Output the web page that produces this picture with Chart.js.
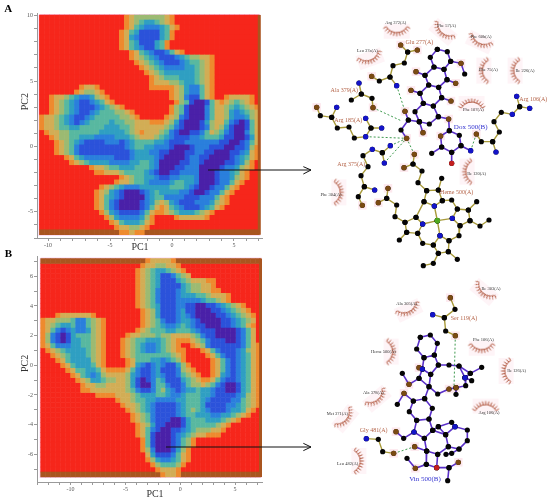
<!DOCTYPE html>
<html lang="en">
<head>
<meta charset="UTF-8" />
<title>Free energy landscapes and ligand contacts</title>
<script src="https://cdn.jsdelivr.net/npm/chart.js"></script>
<style>
  body { margin: 0; background: #fff; }
  canvas { position: absolute; }
</style>
</head>
<body>
<canvas id="plotA" width="275" height="262" style="left:0;top:0"></canvas>
<canvas id="plotB" width="275" height="252" style="left:0;top:250px"></canvas>
<canvas id="ligA" width="550" height="280" style="left:0;top:0"></canvas>
<canvas id="ligB" width="550" height="257" style="left:0;top:245px"></canvas>
<script>
// contour levels, one character per cell (0 = red, 9 = purple)
const levelColors = ["#f6261b", "#a9551f", "#ee8a2e", "#d2ad55", "#9cba72", "#58b8a0", "#2f9fc2", "#2a7fdc", "#2b52da", "#4a20a8"];

const gridA = [
  "000000000000000002344444432",
  "000000000000000002345665432",
  "0000000000000000023567776532",
  "000000000000000023568888652",
  "000000000000000023678888652",
  "00000000000000002356888652",
  "00000000000000002356788652",
  "00000000000000000023567887532",
  "00000000000000000023456788876544332",
  "00000000000000000002345678887655432",
  "00000000000000000000234567777665432",
  "00000000000000000000023456666665432",
  "00000000000000000000002345556665432",
  "00000000000000000000002333445665432",
  "00000000233200000000002222234677532",
  "00000002344320000000000000234677532",
  "0023345677643200000000000023478853200233332",
  "0023456788765320000000000002458998532345432",
  "00234567888765432000000000245899975334565432",
  "00234567887655544320000000245899975334676543",
  "23345678876555554432000002347899975334677643",
  "23345678765555655443332223468999864335789853",
  "23345566555556665543333334578999874346899853",
  "02334455555566666543233345789988753457899753",
  "00234455666777766654333456788877655568899863",
  "00023456788887778765555667888777777788998753",
  "00023457888888888765566777899987778889988742",
  "00023457888888888876667788999887788999887632",
  "00000235677777788876666789999877889999876532",
  "00000023456666777766556799998877899998876420",
  "00000000002334556665556799988777999987764320",
  "00000000000223334555567899887777999877653200",
  "00000000000000002345566788776667999877643200",
  "00000000000000023345567777655667999877532000",
  "00000000000023456777666666555678998775320000",
  "00000000000234678999876566667789987753200000",
  "00000000000235678999976557777888777532000000",
  "00000000000235789999876434678887776432",
  "0000000000023578999987532356788876532",
  "00000000000024678888753223456665432",
  "0000000000000246777764200002333332",
  "00000000000000235666532",
  "0000000000000002334432",
  "11111111111111112232211111111111111111111111"
];

const gridB = [
  "11111111111111111111123333211111111111111111",
  "0000000000000000000023344332",
  "00000000000000000002345665432",
  "000000000000000000023456887543",
  "00000000000000000002345688865433322",
  "00000000000000000002345688886544332",
  "000000000000000000023457888765443322",
  "00000000000000000002345788876665543332",
  "00000000000000000002345788877777655432",
  "00000000000000000002345688877889988765432",
  "000000000000000000002346888768899988765432",
  "0002333333200000000023468887678999988765432",
  "2334445775432000000023457887667899998876543",
  "2345665775432000000023456776567889998876532",
  "2357876776432000000234555665556788899998753",
  "2478986555432000023344454433334578899998753",
  "2478986655432000234556665432223457888998753",
  "23577766554320002345677654320023478888887532",
  "02345666654320002345677654322000235788876432",
  "00234566654320002345555555432000023578876532",
  "00023566664320000235556676542000002357876532",
  "00002356665320000236787678864200002357876532",
  "00000235566532222357887688874320002357876532",
  "00000023567643333467887678875432002367876532",
  "00000002346654433468987568886543223578876532",
  "00000000233443333468997557887544345789986532",
  "00000000223333333457887546787665667889986532",
  "00000000000222233345666556776555667888876432",
  "00000000000000023345566777766555678888775432",
  "00000000000000002334567888876555688887765432",
  "0000000000000000023456788887654567888766532",
  "000000000000000000234578888765566677665432",
  "0000000000000000002345788899865556665432",
  "00000000000000000002346889998655555432",
  "0000000000000000000235789988765444332",
  "000000000000000000023589998765433222",
  "0000000000000000000025899987542",
  "0000000000000000000025899987542",
  "000000000000000000002479998642",
  "000000000000000000000368887532",
  "000000000000000000000246776532",
  "00000000000000000000002455542",
  "0000000000000000000000023332",
  "11111111111111111111111123321111111111111111"
];

// PC ranges of the two grids
const pc1RangeA = [-10.70, 7.04];
const pc2RangeA = [10.05, -6.75];
const pc1RangeB = [-12.73, 7.32];
const pc2RangeB = [7.20, -7.53];

// axis extents and labelled ticks
const axisXA = [-10.89, 7.26];
const axisYA = [-7.0, 10.2];
const axisXB = [-13.06, 7.45];
const axisYB = [-7.87, 7.37];
const tickLabelsXA = [-10, -5, 0, 5];
const tickLabelsYA = [-5, 0, 5, 10];
const tickLabelsXB = [-10, -5, 0, 5];
const tickLabelsYB = [-6, -4, -2, 0, 2, 4, 6];

// ligand diagram A, in diagram units: chains of bonded atoms
const ligandBondsA = [
  [[487,148],[517,155],[527,184],[507,208],[477,201],[466,172],[487,148]],
  [[477,201],[450,226],[461,255],[491,262],[516,239],[507,208]],
  [[461,255],[435,280],[445,310],[475,318],[500,293],[491,262]],
  [[445,310],[420,335],[433,365],[463,372],[490,350],[475,318]],
  [[423,215],[450,226]], [[408,271],[435,280]], [[516,239],[542,250]], [[500,293],[528,303]],
  [[527,184],[558,190],[569,222]],
  [[433,365],[400,360],[390,334]], [[400,360],[378,390],[395,415]], [[433,365],[444,398]],
  [[490,350],[521,357],[523,392],[497,408],[500,441],[530,457],[558,437],[553,406],[523,392]],
  [[500,441],[470,460]], [[530,457],[530,490]], [[558,437],[587,452]]
];
const residueBondsA = [
  [[377,135],[398,156],[427,150]], [[398,156],[388,189],[354,197],[345,231],[313,243],[290,229]], [[345,231],[365,257]],
  [[252,249],[259,282],[229,300]], [[259,282],[291,295],[294,323]],
  [[125,322],[136,347],[170,352],[185,322]], [[170,352],[187,384],[222,381],[238,414],[272,410],[288,384],[272,355]], [[288,384],[320,384]],
  [[346,437],[322,458],[292,448],[264,467],[279,500],[258,527],[268,560],[299,570]], [[322,458],[328,489]], [[268,560],[250,590],[262,616]],
  [[725,289],[734,320],[764,325]], [[734,320],[712,343],[679,337],[657,365],[673,396],[653,425],[663,456]], [[653,425],[619,425],[604,402]],
  [[418,463],[414,492],[387,503]], [[414,492],[441,513],[429,548],[455,572],[447,605],[478,618],[502,602],[490,570],[455,572]], [[490,570],[500,535]],
  [[339,565],[335,595],[310,608]], [[335,595],[365,615],[360,650],[390,667],[423,652],[447,605]],
  [[423,652],[443,672],[428,700],[395,697],[390,667]], [[395,697],[373,720]],
  [[502,602],[530,600],[547,627],[580,630],[585,662],[555,677],[532,655],[547,627]], [[580,630],[605,605]], [[585,662],[615,678],[642,660]],
  [[555,677],[552,707],[522,722],[495,707],[475,735],[490,760],[520,755],[522,722]], [[475,735],[443,730],[428,700]], [[490,760],[475,790],[445,797]], [[520,755],[547,778]],
  [[487,662],[478,618]], [[487,662],[532,655]], [[487,662],[495,707]], [[487,662],[443,672]]
];
const hBondsA = [
  [[365,257],[390,334]], [[294,323],[378,362]], [[272,410],[395,415]], [[328,489],[395,415]],
  [[346,437],[395,415]], [[418,463],[395,415]], [[604,402],[587,452]]
];
const nitrogenA = [[365,257],[252,249],[185,322],[272,355],[320,384],[272,410],[346,437],[292,448],[328,489],[299,570],[725,289],[764,325],[712,343],[663,456],[587,452],[478,618],[532,655],[495,707],[443,672]];
const oxygenA = [[377,135],[427,150],[290,229],[294,323],[125,322],[423,215],[558,190],[542,250],[408,271],[528,303],[390,334],[395,415],[444,398],[521,357],[497,408],[604,402],[418,463],[387,503],[339,565],[310,608],[262,616]];
const redOxygenA = [[530,490]];
const ironA = [[487,662]];
// x, y, turn of the arc in degrees
const lashesA = [[365,92,0],[505,95,40],[615,125,25],[285,175,-20],[628,212,90],[722,212,90],[590,312,180],[578,515,90],[190,577,-90]];

// ligand diagram B
const ligandBondsB = [
  [[436,277],[466,270],[487,295],[478,330],[447,338],[425,312],[436,277]],
  [[478,330],[490,360],[467,388],[442,372],[447,338]], [[442,372],[432,368]],
  [[490,360],[522,360],[552,363],[570,398],[586,385],[620,367]], [[552,363],[586,385]], [[570,398],[590,407]],
  [[570,398],[572,422],[543,428],[522,432],[488,447],[462,425],[467,388]], [[543,428],[543,448]],
  [[442,372],[432,400],[462,425],[449,461],[415,468],[387,445],[367,478]], [[432,400],[402,418],[382,385]],
  [[415,468],[403,500],[425,526],[462,522],[472,490],[449,461]],
  [[425,526],[417,561],[448,580],[473,556],[462,522]], [[417,561],[386,580],[363,560]],
  [[473,556],[490,545],[530,532],[540,545],[577,555],[577,587],[552,612],[520,605],[512,569],[473,556]], [[490,545],[512,569],[540,545]],
  [[448,580],[455,618],[419,605]], [[455,618],[454,658],[421,670],[396,640]], [[454,658],[485,668],[522,668],[550,652]], [[522,668],[518,707]],
  [[455,618],[488,628],[485,668]], [[488,628],[520,605]], [[513,628],[530,625],[552,612]]
];
const residueBondsB = [
  [[526,158],[540,193],[508,218],[473,209]], [[508,218],[512,258],[541,272]],
  [[274,581],[310,583],[323,620],[356,625]]
];
const hBondsB = [[[541,272],[537,428]], [[357,625],[419,605]]];
const nitrogenB = [[473,209],[274,581],[442,372],[570,398],[417,561],[540,545]];
const oxygenB = [[526,158],[541,272],[356,625],[432,368],[402,418],[387,445],[363,560],[419,605],[421,670],[550,652],[543,428],[522,432]];
const redOxygenB = [[485,668]];
const lashesB = [[628,140,40],[400,195,-25],[620,308,0],[347,320,-90],[695,378,90],[305,460,-40],[632,485,180],[210,520,-50],[250,648,-90]];

// arrows from the contour plots to the diagrams
const arrowA = [[-201,510],[108,510]];
const arrowHeadA = [[85,500],[108,510],[85,522]];
const arrowB = [[-327,606],[108,606]];
const arrowHeadB = [[85,595],[108,606],[85,617]];

// text: label, x, y
const smallLabelsA = [["Arg 372(A)",362,68],["Phe 57(A)",515,78],["Phe 60b(A)",618,110],["Leu 37a(A)",277,152],["Phe 75(A)",640,210],["Ile 226(A)",750,213],["Phe 107(A)",595,328],["Ile 120(A)",605,521],["Phe 304(A)",168,584]];
const residueLabelsA = [["Glu 277(A)",433,127],["Ala 379(A)",208,270],["Arg 106(A)",775,298],["Arg 185(A)",220,360],["Arg 375(A)",229,493],["Heme 500(A)",545,577]];
const ligandLabelsA = [["Dox 500(B)",587,382]];
const smallLabelsB = [["Ile 303(A)",648,130],["Ala 305(A)",395,177],["Phe 106(A)",625,284],["Heme 500(A)",325,320],["Ile 126(A)",725,377],["Ala 378(A)",295,443],["Arg 106(A)",642,503],["Met 371(A)",187,505],["Leu 482(A)",218,656]];
const residueLabelsB = [["Ser 119(A)",567,219],["Gly 481(A)",296,556]];
const ligandLabelsB = [["Vin 500(B)",450,702]];

const serif = "'Liberation Serif', serif";

function contourDatasets(rows, pc1Range, pc2Range) {
  const dx = (pc1Range[1] - pc1Range[0]) / 44;
  const dy = (pc2Range[1] - pc2Range[0]) / 44;
  const sets = levelColors.map((color, level) => ({
    data: [],
    pointStyle: "rect",
    pointRadius: 3.9,
    pointHoverRadius: 3.9,
    pointBorderWidth: 0,
    pointBackgroundColor: color,
    order: 20 - level
  }));
  rows.forEach((row, r) => {
    const cells = row.padEnd(44, "0");
    for (let c = 0; c < 44; c++) {
      sets[+cells[c]].data.push({ x: pc1Range[0] + (c + 0.5) * dx, y: pc2Range[0] + (r + 0.5) * dy });
    }
  });
  return sets;
}

function frameDataset(pc1Range, pc2Range) {
  // pale fringe around the plot
  const [l, r] = pc1Range, [t, b] = pc2Range;
  return {
    showLine: true, borderColor: "#fbd3f1", borderWidth: 2, pointRadius: 0, order: 30,
    data: [{x:l,y:t},{x:r,y:t},{x:r,y:b},{x:l,y:b},{x:l,y:t}]
  };
}

function plot(id, rows, pc1Range, pc2Range, axisX, axisY, labelsX, labelsY, padTop, bottomHeight) {
  const ds = contourDatasets(rows, pc1Range, pc2Range);
  ds.push(frameDataset(pc1Range, pc2Range));
  ds.push({
    showLine: true, borderColor: levelColors[1], borderWidth: 3, pointRadius: 0, order: 1,
    data: [{x:pc1Range[1],y:pc2Range[0]},{x:pc1Range[1],y:pc2Range[1]}]
  });
  const axis = (range, labels, afterFit) => ({
    type: "linear",
    min: range[0],
    max: range[1],
    afterFit,
    border: { color: "#9a9a9a" },
    grid: { drawOnChartArea: false, tickLength: 3, tickColor: "#9a9a9a" },
    ticks: {
      stepSize: 1,
      autoSkip: false,
      includeBounds: false,
      maxRotation: 0,
      padding: 1,
      color: "#555",
      font: { family: serif, size: 6 },
      callback: v => labels.includes(v) ? String(v) : ""
    }
  });
  new Chart(document.getElementById(id), {
    type: "scatter",
    data: { datasets: ds },
    options: {
      responsive: false,
      animation: false,
      devicePixelRatio: 1,
      events: [],
      layout: { autoPadding: false, padding: { top: padTop, right: 13, left: 0, bottom: 0 } },
      plugins: { legend: { display: false }, tooltip: { enabled: false } },
      scales: {
        x: axis(axisX, labelsX, s => { s.height = bottomHeight; }),
        y: axis(axisY, labelsY, s => { s.width = 37; })
      }
    }
  });
}

plot("plotA", gridA, pc1RangeA, pc2RangeA, axisXA, axisYA, tickLabelsXA, tickLabelsYA, 13, 24);
plot("plotB", gridB, pc1RangeB, pc2RangeB, axisXB, axisYB, tickLabelsXB, tickLabelsYB, 6, 20);

function lashGlyph() {
  const cv = document.createElement("canvas");
  cv.width = cv.height = 44;
  const g = cv.getContext("2d");
  g.fillStyle = "rgba(254,240,243,0.7)";
  g.fillRect(9, 15, 26, 15);
  g.strokeStyle = "#a9492f";
  g.lineWidth = 0.9;
  g.beginPath();
  g.arc(22, 12, 12, Math.PI / 6, Math.PI * 5 / 6);
  g.stroke();
  for (let a = 30; a <= 150; a += 12) {
    const t = a * Math.PI / 180;
    g.beginPath();
    g.moveTo(22 + 12 * Math.cos(t), 12 + 12 * Math.sin(t));
    g.lineTo(22 + 15.5 * Math.cos(t), 12 + 15.5 * Math.sin(t));
    g.stroke();
  }
  return cv;
}
const lashImage = lashGlyph();

const toPoints = list => list.map(p => ({ x: p[0], y: p[1] }));
const flatten = chains => chains.flatMap(c => [...toPoints(c), { x: null, y: null }]);

function atoms(list, color, order, radius) {
  return { data: toPoints(list), pointRadius: radius || 2.6, pointBackgroundColor: color, pointBorderWidth: 0, showLine: false, order };
}

function textPlugin(groups) {
  return {
    id: "diagramText",
    afterDatasetsDraw(chart) {
      const { ctx, scales } = chart;
      ctx.save();
      ctx.textAlign = "center";
      ctx.textBaseline = "middle";
      groups.forEach(g => {
        ctx.fillStyle = g.color;
        ctx.font = g.font;
        g.items.forEach(([t, x, y]) => {
          if (g.rotate) {
            ctx.save();
            ctx.translate(scales.x.getPixelForValue(x), scales.y.getPixelForValue(y));
            ctx.rotate(-Math.PI / 2);
            ctx.fillText(t, 0, 0);
            ctx.restore();
          } else {
            ctx.fillText(t, scales.x.getPixelForValue(x), scales.y.getPixelForValue(y));
          }
        });
      });
      ctx.restore();
    }
  };
}

function diagram(id, yMax, parts) {
  const bond = (chains, color, width, order, radius) => ({
    data: flatten(chains), showLine: true, borderColor: color, borderWidth: width,
    pointRadius: ctx => (ctx.raw && ctx.raw.x !== null ? radius : 0), pointBackgroundColor: "#050505", pointBorderWidth: 0, order
  });
  const ds = [
    { data: toPoints(parts.lashes), pointStyle: lashImage, pointRadius: 10, pointRotation: parts.lashes.map(l => l[2]), order: 9, showLine: false },
    { data: toPoints(parts.oxygen), pointStyle: "rect", pointRadius: 6, pointBackgroundColor: "#fde8ee", pointBorderWidth: 0, order: 8, showLine: false },
    bond(parts.residues, "#a89a3a", 1.4, 6, 2.6),
    bond(parts.ligand, "#5a30c8", 1.6, 5, 2.6),
    { data: flatten(parts.hbonds), showLine: true, borderColor: "#3f9a4f", borderWidth: 1, borderDash: [2, 2], pointRadius: 0, order: 4 },
    atoms(parts.nitrogen, "#1414c8", 3),
    atoms(parts.oxygen, "#7a4a12", 3),
    atoms(parts.red, "#c41f1f", 3),
    { data: flatten(parts.arrows), showLine: true, borderColor: "#111", borderWidth: 1, pointRadius: 0, order: 2 }
  ];
  if (parts.iron) ds.push(atoms(parts.iron, "#4fa81f", 3, 2.8));
  new Chart(document.getElementById(id), {
    type: "scatter",
    data: { datasets: ds },
    options: {
      responsive: false,
      animation: false,
      devicePixelRatio: 1,
      events: [],
      layout: { autoPadding: false, padding: 0 },
      plugins: { legend: { display: false }, tooltip: { enabled: false } },
      scales: {
        x: { type: "linear", display: false, min: -825, max: 825 },
        y: { type: "linear", display: false, min: 0, max: yMax, reverse: true }
      }
    },
    plugins: [textPlugin(parts.text)]
  });
}

const smallFont = "4.5px " + serif;
const residueFont = "6px " + serif;
const ligandFont = "7px " + serif;
const titleFont = "10px " + serif;
const panelFont = "bold 11px " + serif;

diagram("ligA", 840, {
  lashes: lashesA, oxygen: oxygenA, residues: residueBondsA, ligand: ligandBondsA, hbonds: hBondsA,
  nitrogen: nitrogenA, red: redOxygenA, iron: ironA, arrows: [arrowA, arrowHeadA],
  text: [
    { color: "#333", font: smallFont, items: smallLabelsA },
    { color: "#b5654a", font: residueFont, items: residueLabelsA },
    { color: "#3434d0", font: ligandFont, items: ligandLabelsA },
    { color: "#333", font: titleFont, items: [["PC1", -405, 742]] },
    { color: "#333", font: titleFont, rotate: true, items: [["PC2", -750, 305]] },
    { color: "#000", font: panelFont, items: [["A", -800, 27]] }
  ]
});

diagram("ligB", 771, {
  lashes: lashesB, oxygen: oxygenB, residues: residueBondsB, ligand: ligandBondsB, hbonds: hBondsB,
  nitrogen: nitrogenB, red: redOxygenB, arrows: [arrowB, arrowHeadB],
  text: [
    { color: "#333", font: smallFont, items: smallLabelsB },
    { color: "#b5654a", font: residueFont, items: residueLabelsB },
    { color: "#3434d0", font: ligandFont, items: ligandLabelsB },
    { color: "#333", font: titleFont, items: [["PC1", -360, 747]] },
    { color: "#333", font: titleFont, rotate: true, items: [["PC2", -750, 355]] },
    { color: "#000", font: panelFont, items: [["B", -800, 27]] }
  ]
});
</script>
</body>
</html>
